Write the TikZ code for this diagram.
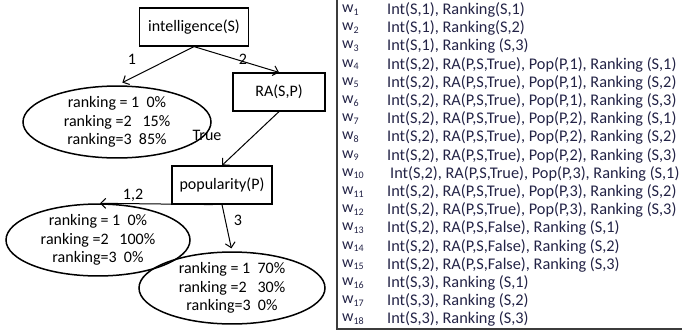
\documentclass[tikz,border=0pt]{standalone}
\usepackage{fontspec}
\setmainfont{Carlito}
\usetikzlibrary{arrows.meta,shapes.geometric}
\definecolor{inkblue}{RGB}{35,35,70}
\definecolor{framegray}{RGB}{60,60,60}
\newcommand{\wsub}[1]{w\raisebox{-0.35ex}{\fontsize{10}{10}\selectfont #1}}
\begin{document}
\begin{tikzpicture}[x=1pt,y=-1pt,
  every node/.style={font=\fontsize{16}{18.5}\selectfont, inner sep=0pt},
  varbox/.style={draw=black, line width=1.2pt, minimum width=#1, minimum height=38pt},
  leaf/.style={draw=black, ellipse, line width=1.5pt, align=center},
  edgelabel/.style={text=black},
  link/.style={line width=1pt, -{Straight Barb[length=5pt,width=10pt,line width=1pt]}},
  rowlabel/.style={anchor=west, text=inkblue, font=\fontsize{16}{17}\selectfont},
  rowtext/.style={anchor=west, text=inkblue, font=\fontsize{16.3}{17}\selectfont}
]
\useasboundingbox (0,0) rectangle (682,335);

% decision tree
\node[varbox=109pt] (int) at (194,27) {intelligence(S)};
\node[varbox=92pt]  (ra)  at (279,92) {RA(S,P)};
\node[varbox=100pt] (pop) at (222,185) {popularity(P)};

\node[leaf, minimum width=188pt, minimum height=56pt] (e1) at (117,122)
  {ranking = 1~~0\%\\ ranking =2~~~15\%\\ ranking=3~~85\%};
\node[leaf, minimum width=184pt, minimum height=55pt] (e2) at (98,240)
  {ranking = 1~~0\%\\ ranking =2~~~100\%\\ ranking=3~~0\%};
\node[leaf, minimum width=186pt, minimum height=57pt] (e3) at (232,288)
  {ranking = 1~~70\%\\ ranking =2~~~30\%\\ ranking=3~~0\%};

\draw[link, shorten >=6pt] (int.south) -- (e1.north);
\draw[link] (int.south) -- (ra.north);
\draw[link] (ra.south) -- (pop.north);
\draw[link] ([xshift=-9pt]pop.south) -- ([xshift=2pt]e2.north);
\draw[link, shorten >=3pt] (pop.south) -- (e3.north);

\node[edgelabel] (l1)   at (132,59)  {1};
\node[edgelabel] (l2)   at (243,59)  {2};
\node[edgelabel] (ltr)  at (207,135) {True};
\node[edgelabel] (l12)  at (133,195) {1,2};
\node[edgelabel] (l3)   at (238,220) {3};

% table of worlds
\draw[framegray, line width=1.2pt] (337,-2) rectangle (690,329);
\foreach \i/\t in {
  1/{Int(S,1), Ranking(S,1)},
  2/{Int(S,1), Ranking(S,2)},
  3/{Int(S,1), Ranking (S,3)},
  4/{Int(S,2), RA(P,S,True), Pop(P,1), Ranking (S,1)},
  5/{Int(S,2), RA(P,S,True), Pop(P,1), Ranking (S,2)},
  6/{Int(S,2), RA(P,S,True), Pop(P,1), Ranking (S,3)},
  7/{Int(S,2), RA(P,S,True), Pop(P,2), Ranking (S,1)},
  8/{Int(S,2), RA(P,S,True), Pop(P,2), Ranking (S,2)},
  9/{Int(S,2), RA(P,S,True), Pop(P,2), Ranking (S,3)},
  11/{Int(S,2), RA(P,S,True), Pop(P,3), Ranking (S,2)},
  12/{Int(S,2), RA(P,S,True), Pop(P,3), Ranking (S,3)},
  13/{Int(S,2), RA(P,S,False), Ranking (S,1)},
  14/{Int(S,2), RA(P,S,False), Ranking (S,2)},
  15/{Int(S,2), RA(P,S,False), Ranking (S,3)},
  16/{Int(S,3), Ranking (S,1)},
  17/{Int(S,3), Ranking (S,2)},
  18/{Int(S,3), Ranking (S,3)}} {
  \node[rowlabel] (w\i) at (342,{10+(\i-1)*18.2}) {\wsub{\i}};
  \node[rowtext]  (r\i) at (387,{10+(\i-1)*18.2}) {\t};
}
\node[rowlabel] (w10) at (342,{10+9*18.2}) {\wsub{10}};
\node[rowtext]  (r10) at (390,{10+9*18.2}) {Int(S,2), RA(P,S,True), Pop(P,3), Ranking (S,1)};
\end{tikzpicture}
\end{document}
